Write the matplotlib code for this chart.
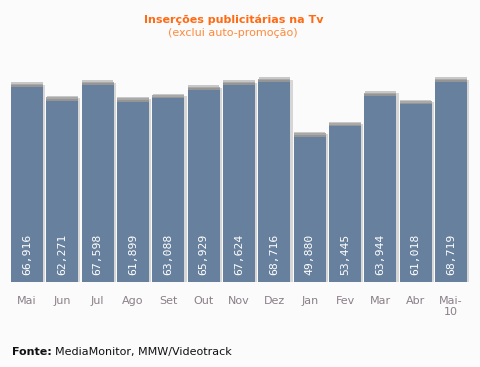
import matplotlib
matplotlib.use("Agg")
import matplotlib.pyplot as plt

months = ["Mai", "Jun", "Jul", "Ago", "Set", "Out", "Nov", "Dez", "Jan", "Fev", "Mar", "Abr", "Mai-\n10"]
values = [66916, 62271, 67598, 61899, 63088, 65929, 67624, 68716, 49880, 53445, 63944, 61018, 68719]
value_labels = ["66,916", "62,271", "67,598", "61,899", "63,088", "65,929", "67,624", "68,716",
                "49,880", "53,445", "63,944", "61,018", "68,719"]

bg = "#fbfbfb"
fig = plt.figure(figsize=(4.81, 3.67), dpi=100, facecolor=bg)
ax = fig.add_axes([0.0193, 0.2316, 0.9552, 0.5714])
ax.set_facecolor(bg)

x = list(range(len(values)))
w = 0.91
cap = 1600

# side shadow
ax.bar([i + 0.06 for i in x], [v + cap * 0.5 for v in values], width=w, color="#d6d6d6", zorder=1)
# main bars
ax.bar(x, values, width=w, color="#67809d", zorder=2)
# top cap (gradient-like)
ax.bar(x, [cap * 0.35] * len(x), bottom=values, width=w, color="#959595", zorder=2)
ax.bar(x, [cap * 0.35] * len(x), bottom=[v + cap * 0.35 for v in values], width=w,
       color="#a9a9a9", zorder=2)
ax.bar(x, [cap * 0.30] * len(x), bottom=[v + cap * 0.70 for v in values], width=w * 0.97,
       color="#c8c8c8", zorder=2)

for i, lab in zip(x, value_labels):
    ax.text(i, 2300, lab, rotation=90, ha="center", va="bottom", color="white",
            fontsize=8.2, family="DejaVu Sans Mono", zorder=3)

ax.set_xlim(-0.5, len(values) - 0.5)
ax.set_ylim(0, 72000)
ax.set_xticks(x)
ax.set_xticklabels(months, color="#8a8088", fontsize=8, linespacing=1.2, va="top")
ax.tick_params(axis="x", length=0, pad=10)
ax.set_yticks([])
for s in ax.spines.values():
    s.set_visible(False)

fig.text(0.485, 0.945, "Inserções publicitárias na Tv", ha="center", va="center",
         color="#ff6a13", fontsize=8, fontweight="bold")
fig.text(0.485, 0.91, "(exclui auto-promoção)", ha="center", va="center",
         color="#ff8a3d", fontsize=8)

t1 = fig.text(0.025, 0.04, "Fonte:", ha="left", va="center", color="#111111",
              fontsize=8, fontweight="bold")
fig.canvas.draw()
bb = t1.get_window_extent()
x2 = (bb.x1 + 3) / fig.bbox.width
fig.text(x2, 0.04, "MediaMonitor, MMW/Videotrack", ha="left", va="center",
         color="#111111", fontsize=8)

fig.savefig("out.png", dpi=100, facecolor=bg)
